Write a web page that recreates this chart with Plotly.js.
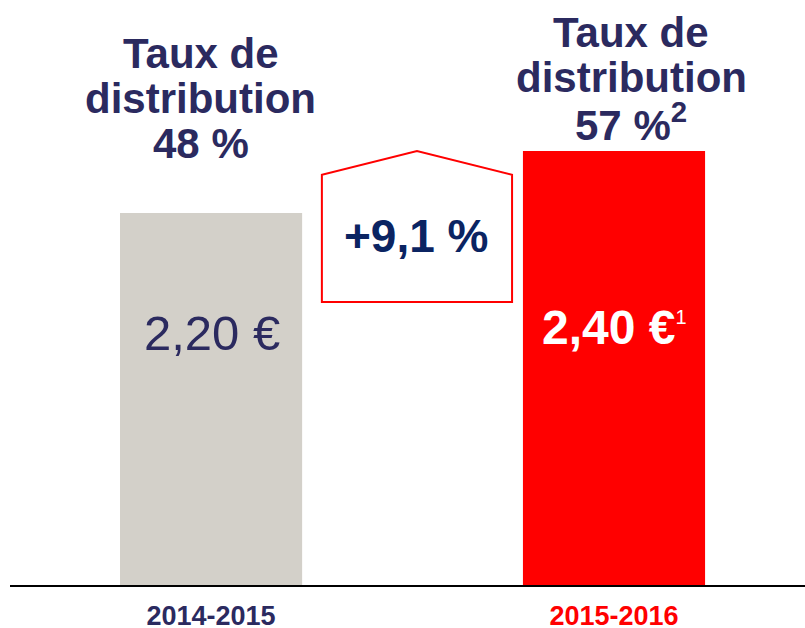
<!DOCTYPE html>
<html>
<head>
<meta charset="utf-8">
<script src="https://cdn.plot.ly/plotly-3.0.1.min.js"></script>
<style>html,body{margin:0;padding:0;background:#fff;}#chart{width:805px;height:628px;}</style>
</head>
<body>
<div id="chart"></div>
<script>
// ---- data ----
const periods = ['2014-2015', '2015-2016'];
const dividends = [2.20, 2.40];
const dividendLabels = ['2,20 €', '2,40 €<sup><span style="font-weight:normal;font-size:20px">1</span></sup>'];
const titleLine1 = ['Taux de', 'Taux de'];
const titleLine2 = ['distribution', 'distribution'];
const payoutRates = ['48 %', '57 %<sup>2</sup>'];
const growthLabel = '+9,1 %';

// ---- style ----
const NAVY = '#2b2a5f';
const BLUE = '#0b2462';
const RED = '#ff0000';
const GREY = '#d3d0c9';
const FONT = 'Liberation Sans, Arial, sans-serif';
const barColors = [GREY, RED];
const tickColors = [NAVY, RED];
const valueColors = [NAVY, '#ffffff'];
const valueWeights = ['normal', 'bold'];
const valueSizes = [49, 48];

const trace = {
  type: 'bar',
  x: periods,
  y: dividends,
  marker: {color: barColors, line: {width: 0}},
  width: 0.452,
  hoverinfo: 'skip'
};

const annotations = [];
const titleY = [[2.715, 2.570, 2.425], [2.783, 2.638, 2.493]];
periods.forEach((p, i) => {
  const lines = [titleLine1[i], titleLine2[i], payoutRates[i]];
  lines.forEach((t, k) => {
    annotations.push({
      x: i + (i === 0 ? -0.025 : 0.043), y: titleY[i][k], xref: 'x', yref: 'y',
      text: t, showarrow: false, xanchor: 'center', yanchor: 'middle',
      font: {family: FONT, size: 42, color: NAVY, weight: 'bold'}
    });
  });
  annotations.push({
    x: i + (i === 0 ? 0.003 : 0.0), y: i === 0 ? 1.813 : 1.832, xref: 'x', yref: 'y',
    text: dividendLabels[i], showarrow: false, xanchor: 'center', yanchor: 'middle',
    font: {family: FONT, size: valueSizes[i], color: valueColors[i], weight: valueWeights[i]}
  });
});
annotations.push({
  x: 0.511, y: 2.126, xref: 'x', yref: 'y',
  text: growthLabel, showarrow: false, xanchor: 'center', yanchor: 'middle',
  font: {family: FONT, size: 46, color: BLUE, weight: 'bold'}
});

const peak = dividends[1];
const shapes = [{
  type: 'path', xref: 'x', yref: 'y',
  path: `M 0.275,1.913 L 0.275,2.323 L 0.511,${peak} L 0.747,2.323 L 0.747,1.913 Z`,
  line: {color: RED, width: 2}, fillcolor: '#ffffff', layer: 'above'
}];

const layout = {
  width: 805, height: 628,
  margin: {l: 10, r: 0, t: 0, b: 43},
  paper_bgcolor: '#ffffff', plot_bgcolor: '#ffffff',
  showlegend: false,
  xaxis: {
    type: 'category',
    range: [-0.499, 1.474],
    tickvals: periods,
    ticktext: periods.map((p, i) => `<span style="color:${tickColors[i]}">${p}</span>`),
    tickfont: {family: FONT, size: 27, color: NAVY, weight: 'bold'},
    ticks: '', showline: true, linecolor: '#000000', linewidth: 1.5,
    showgrid: false, zeroline: false, fixedrange: true,
    ticklabelstandoff: 6
  },
  yaxis: {
    range: [1, 2.887], visible: false, showgrid: false, zeroline: false, fixedrange: true
  },
  annotations: annotations,
  shapes: shapes
};

Plotly.newPlot('chart', [trace], layout, {displayModeBar: false, staticPlot: true});
</script>
</body>
</html>
